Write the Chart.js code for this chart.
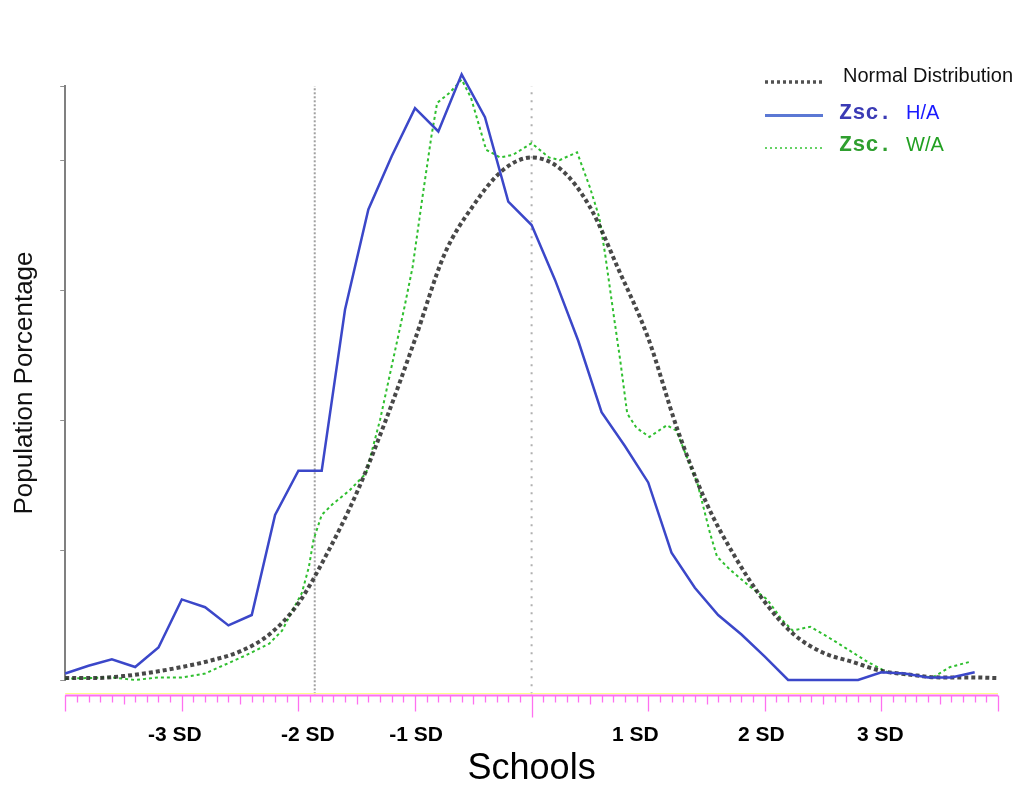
<!DOCTYPE html>
<html><head><meta charset="utf-8">
<script src="https://cdn.jsdelivr.net/npm/chart.js@4.4.1/dist/chart.umd.min.js"></script>
<style>html,body{margin:0;padding:0;background:#fff;}canvas{display:block;}</style>
</head><body>
<canvas id="c" width="1031" height="787"></canvas>
<script>
// ---- data (x in SD units, y in axis units) ----
const normalX = [-4.0,-3.75,-3.5,-3.25,-3.0,-2.75,-2.5,-2.25,-2.0,-1.75,-1.5,-1.25,-1.0,-0.75,-0.5,-0.25,0.0,0.25,0.5,0.75,1.0,1.25,1.5,1.75,2.0,2.25,2.5,2.75,3.0,3.25,3.5,3.75,4.0];
const normalY = [0.015,0.015,0.03,0.06,0.10,0.15,0.22,0.35,0.59,0.98,1.44,2.00,2.62,3.27,3.65,3.92,4.02,3.93,3.64,3.15,2.63,1.93,1.36,0.94,0.60,0.35,0.21,0.14,0.07,0.04,0.02,0.02,0.015];

const haX = [-4.0,-3.8,-3.6,-3.4,-3.2,-3.0,-2.8,-2.6,-2.4,-2.2,-2.0,-1.8,-1.6,-1.4,-1.2,-1.0,-0.8,-0.6,-0.4,-0.2,0.0,0.2,0.4,0.6,0.8,1.0,1.2,1.4,1.6,1.8,2.0,2.2,2.4,2.6,2.8,3.0,3.2,3.4,3.6,3.8];
const haY = [0.05,0.11,0.16,0.10,0.25,0.62,0.56,0.42,0.50,1.27,1.61,1.61,2.85,3.62,4.03,4.40,4.22,4.66,4.33,3.68,3.50,3.08,2.61,2.06,1.80,1.52,0.98,0.71,0.50,0.35,0.18,0.0,0.0,0.0,0.0,0.06,0.05,0.02,0.02,0.06];

const waX = [-4.0,-3.6,-3.4,-3.2,-3.0,-2.8,-2.6,-2.45,-2.25,-2.14,-2.06,-1.97,-1.91,-1.87,-1.80,-1.71,-1.56,-1.42,-1.30,-1.09,-1.02,-0.94,-0.86,-0.81,-0.70,-0.60,-0.52,-0.39,-0.27,-0.16,0.0,0.15,0.24,0.39,0.50,0.58,0.63,0.71,0.76,0.82,0.90,1.01,1.16,1.24,1.42,1.53,1.59,1.70,1.87,2.02,2.15,2.24,2.39,2.58,2.88,3.05,3.44,3.59,3.76];
const waY = [0.01,0.02,0.0,0.02,0.02,0.05,0.13,0.19,0.28,0.38,0.52,0.67,0.87,1.08,1.27,1.35,1.46,1.59,2.00,2.87,3.18,3.69,4.18,4.44,4.52,4.62,4.48,4.08,4.02,4.04,4.13,4.02,4.00,4.06,3.79,3.56,3.28,2.77,2.46,2.05,1.94,1.87,1.96,1.92,1.52,1.13,0.95,0.85,0.72,0.62,0.46,0.38,0.41,0.31,0.14,0.06,0.02,0.10,0.14];

const refLineX = [-1.86, 0];
const refLineY = [-0.11, 4.57];

const sdTickValues = [-3.06, -1.92, -0.99, 0.89, 1.97, 2.99];
const sdTickLabels = ['-3 SD', '-2 SD', '-1 SD', '1 SD', '2 SD', '3 SD'];

const legendLabels = ['Normal Distribution', 'H/A', 'W/A'];
const legendPrefix = 'Zsc.';

// ---- build datasets ----
const pts = (xs, ys) => xs.map((x, i) => ({x, y: ys[i]}));

const ruler = {
  id: 'ruler',
  afterDraw(chart) {
    const {ctx, chartArea, scales: {x}} = chart;
    const y0 = chartArea.bottom + 15.5;
    ctx.save();
    ctx.strokeStyle = '#ffff88'; ctx.lineWidth = 1;
    ctx.beginPath(); ctx.moveTo(x.getPixelForValue(-4), y0 - 2); ctx.lineTo(x.getPixelForValue(4), y0 - 2); ctx.stroke();
    ctx.strokeStyle = '#ff70f0'; ctx.lineWidth = 2;
    ctx.beginPath(); ctx.moveTo(x.getPixelForValue(-4), y0); ctx.lineTo(x.getPixelForValue(4), y0); ctx.stroke();
    ctx.lineWidth = 1.3;
    for (let i = -40; i <= 40; i++) {
      const px = Math.round(x.getPixelForValue(i / 10)) + 0.5;
      let len = 7;
      if (i % 10 === 0) len = (i === 0) ? 22 : 16;
      else if (i % 5 === 0) len = 9;
      ctx.beginPath(); ctx.moveTo(px, y0); ctx.lineTo(px, y0 + len); ctx.stroke();
    }
    ctx.restore();
  }
};

const legend = {
  id: 'customLegend',
  afterDraw(chart) {
    const {ctx} = chart;
    ctx.save();
    // row 1
    ctx.strokeStyle = 'rgba(50,50,50,0.85)'; ctx.lineWidth = 3.5; ctx.setLineDash([3, 3]);
    ctx.beginPath(); ctx.moveTo(765, 82); ctx.lineTo(823, 82); ctx.stroke();
    // row 2
    ctx.setLineDash([]); ctx.strokeStyle = '#5b78d4'; ctx.lineWidth = 3;
    ctx.beginPath(); ctx.moveTo(765, 115.5); ctx.lineTo(823, 115.5); ctx.stroke();
    // row 3
    ctx.setLineDash([2, 3]); ctx.strokeStyle = '#33c233'; ctx.lineWidth = 1.6;
    ctx.beginPath(); ctx.moveTo(765, 148); ctx.lineTo(823, 148); ctx.stroke();
    ctx.setLineDash([]);
    ctx.textBaseline = 'middle'; ctx.textAlign = 'left';
    ctx.font = '20px "Liberation Sans", Arial, sans-serif';
    ctx.fillStyle = '#111'; ctx.fillText(legendLabels[0], 843, 76);
    ctx.font = 'bold 22px "Liberation Mono", "Courier New", monospace';
    ctx.fillStyle = '#3b3bb5'; ctx.fillText(legendPrefix, 839, 113);
    ctx.fillStyle = '#2f9f2f'; ctx.fillText(legendPrefix, 839, 145);
    ctx.font = '20px "Liberation Sans", Arial, sans-serif';
    ctx.fillStyle = '#1a1aff'; ctx.fillText(legendLabels[1], 906, 113);
    ctx.fillStyle = '#22a022'; ctx.fillText(legendLabels[2], 906, 145);
    ctx.restore();
  }
};

new Chart(document.getElementById('c'), {
  type: 'line',
  data: {
    datasets: [
      { label: 'Zsc. H/A', data: pts(haX, haY), borderColor: '#3b47c9', borderWidth: 2.5, pointRadius: 0, tension: 0, clip: false, order: 1 },
      { label: 'Normal Distribution', data: pts(normalX, normalY), borderColor: 'rgba(40,40,40,0.85)', borderWidth: 4, borderDash: [4, 3], pointRadius: 0, cubicInterpolationMode: 'monotone', clip: false, order: 2 },
      { label: 'Zsc. W/A', data: pts(waX, waY), borderColor: '#2fbf2f', borderWidth: 2, borderDash: [3, 3], pointRadius: 0, tension: 0, clip: false, order: 3 },
      { label: 'ref -2', data: pts([refLineX[0], refLineX[0]], refLineY), borderColor: '#a0a0a0', borderWidth: 2, borderDash: [2, 2], pointRadius: 0, clip: false, order: 4 },
      { label: 'ref 0', data: pts([refLineX[1], refLineX[1]], refLineY), borderColor: '#b0b0b0', borderWidth: 2, borderDash: [2, 6], pointRadius: 0, clip: false, order: 5 }
    ]
  },
  options: {
    responsive: false,
    animation: false,
    devicePixelRatio: 1,
    layout: { padding: { top: 86, right: 33, left: 4, bottom: 0 } },
    plugins: { legend: { display: false }, tooltip: { enabled: false } },
    scales: {
      x: {
        type: 'linear', min: -4, max: 4,
        afterBuildTicks: (scale) => { scale.ticks = sdTickValues.map(v => ({value: v})); },
        afterFit: (scale) => { scale.height = 107; },
        ticks: {
          autoSkip: false, maxRotation: 0, padding: 42.4, color: '#000',
          font: { family: '"Liberation Sans", Arial, sans-serif', size: 21, weight: 'bold' },
          callback: (v, i) => sdTickLabels[i]
        },
        grid: { display: false, drawTicks: false },
        border: { display: false },
        title: { display: true, text: 'Schools', color: '#000', padding: { top: 0, bottom: 0 },
          font: { family: '"Liberation Sans", Arial, sans-serif', size: 36, lineHeight: 1.0 } }
      },
      y: {
        type: 'linear', min: 0, max: 4.57,
        ticks: { display: false, stepSize: 1 },
        grid: { drawOnChartArea: false, drawTicks: true, tickLength: 5, color: '#909090', tickColor: '#909090' },
        border: { display: true, color: '#808080', width: 2 },
        title: { display: true, text: 'Population Porcentage', color: '#111', padding: { top: 5, bottom: 20 },
          font: { family: '"Liberation Sans", Arial, sans-serif', size: 26, lineHeight: 1.2 } }
      }
    }
  },
  plugins: [ruler, legend]
});
</script>
</body></html>
